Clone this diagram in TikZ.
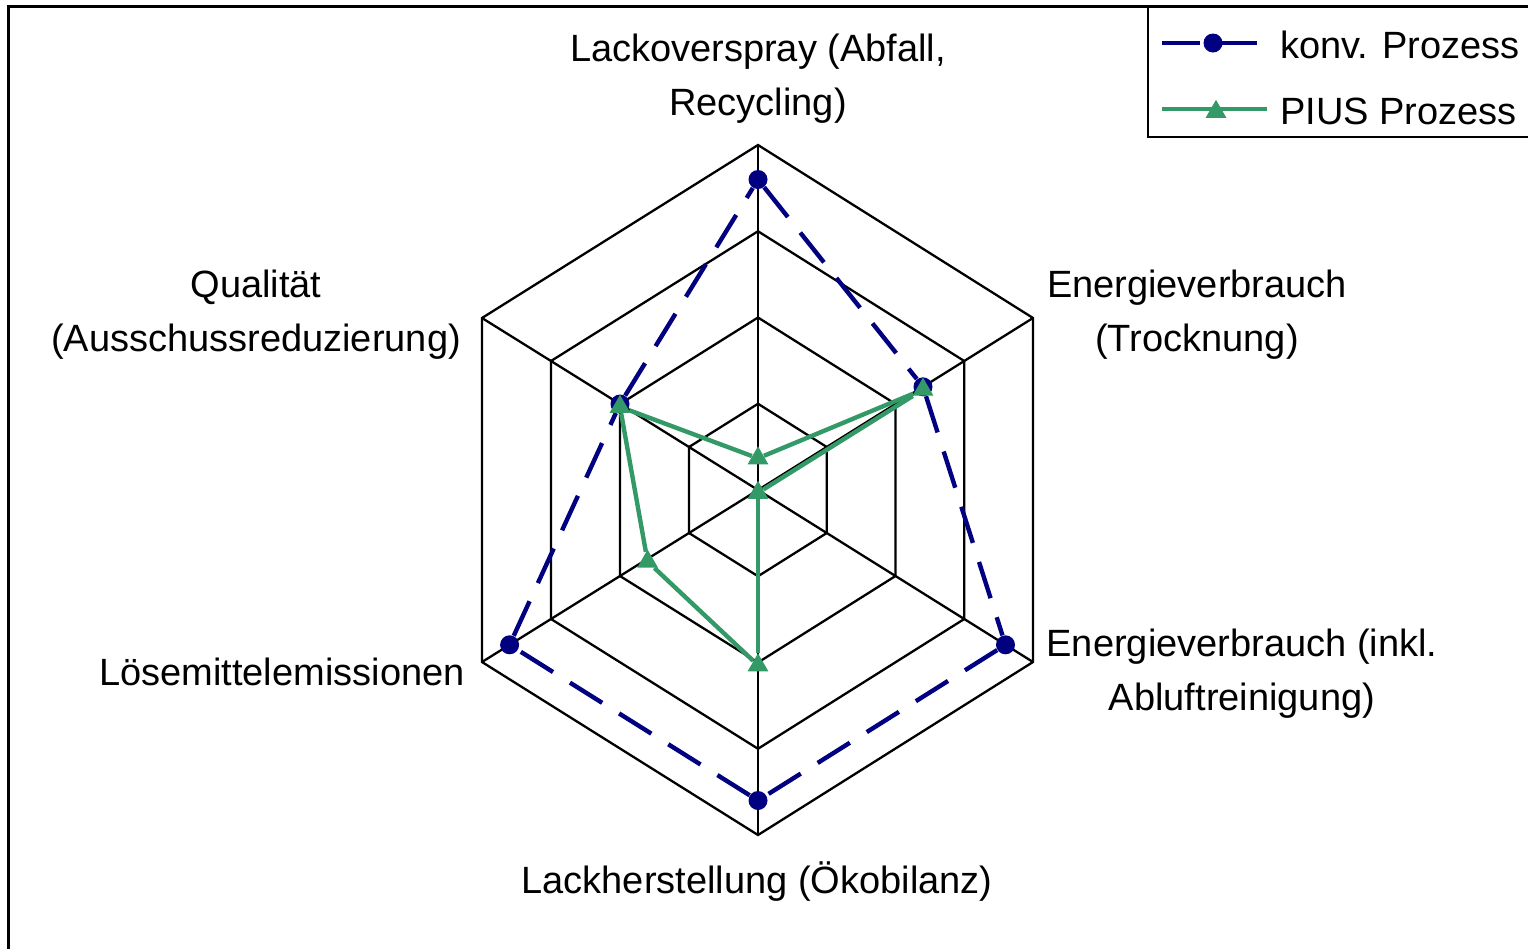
\documentclass[tikz,border=0pt]{standalone}
\usepackage{fontspec}
\setmainfont{Liberation Sans}
\usetikzlibrary{calc,shapes.geometric}
\definecolor{konvblue}{RGB}{0,0,128}
\definecolor{piusgreen}{RGB}{51,153,102}
\begin{document}
\begin{tikzpicture}[x=0.5pt,y=-0.5pt,
  gridline/.style={black,line width=1.15pt},
  framestyle/.style={black,line width=1.5pt},
  legendbox/.style={black,line width=1.2pt},
  konvline/.style={konvblue,line width=2.2pt,dash pattern=on 19pt off 10pt},
  piusline/.style={piusgreen,line width=2.2pt},
  konvmark/.style={circle,fill=konvblue,inner sep=0pt,minimum size=9.5pt},
  piusmark/.style={regular polygon,regular polygon sides=3,fill=piusgreen,
    inner sep=0pt,minimum size=12pt,yshift=-1.4pt},
  axislabel/.style={font=\fontsize{19pt}{27pt}\selectfont,inner sep=0pt,
    align=center,anchor=base},
  legendtext/.style={font=\fontsize{19pt}{27pt}\selectfont,inner sep=0pt,
    anchor=base west}
]
\useasboundingbox (0,0) rectangle (1528,949);

% outer frame of the chart area
\draw[framestyle] (8.5,949) -- (8.5,6.5) -- (1528,6.5);

% centre and the six axis ends
\coordinate (C)  at (758,490);
\coordinate (A1) at (758,145);
\coordinate (A2) at (1033,318);
\coordinate (A3) at (1033,662);
\coordinate (A4) at (758,835);
\coordinate (A5) at (482,662);
\coordinate (A6) at (482,318);

% grid rings and spokes
\foreach \r in {0.25,0.5,0.75,1}
  \draw[gridline,line join=miter]
    ($(C)!\r!(A1)$) -- ($(C)!\r!(A2)$) -- ($(C)!\r!(A3)$) --
    ($(C)!\r!(A4)$) -- ($(C)!\r!(A5)$) -- ($(C)!\r!(A6)$) -- cycle;
\foreach \i in {1,...,6}
  \draw[gridline] (C) -- (A\i);

% axis labels (base anchor = baseline of the last line)
\node[axislabel] (l1) at (758,115) {Lackoverspray (Abfall,\\Recycling)};
\node[axislabel] (l2) at (1197,351) {Energieverbrauch\\(Trocknung)};
\node[axislabel] (l3) at (1242,710) {Energieverbrauch (inkl.\\Abluftreinigung)};
\node[axislabel] (l4) at (757,893) {Lackherstellung (Ökobilanz)};
\node[axislabel,anchor=base east] (l5) at (465,685) {Lösemittelemissionen};
\node[axislabel] (l6) at (256,351) {Qualität\\(Ausschussreduzierung)};

% series: konventioneller Prozess
\node[konvmark] (k1) at ($(C)!0.9!(A1)$) {};
\node[konvmark] (k2) at ($(C)!0.6!(A2)$) {};
\node[konvmark] (k3) at ($(C)!0.9!(A3)$) {};
\node[konvmark] (k4) at ($(C)!0.9!(A4)$) {};
\node[konvmark] (k5) at ($(C)!0.9!(A5)$) {};
\node[konvmark] (k6) at ($(C)!0.5!(A6)$) {};
\foreach \a/\b in {k1/k2,k2/k3,k3/k4,k4/k5,k5/k6,k6/k1}
  \draw[konvline] (\a) -- (\b);

% series: PIUS Prozess
\node[piusmark] (p1) at ($(C)!0.1!(A1)$) {};
\node[piusmark] (p2) at ($(C)!0.6!(A2)$) {};
\node[piusmark] (p3) at (C) {};
\node[piusmark] (p4) at ($(C)!0.5!(A4)$) {};
\node[piusmark] (p5) at ($(C)!0.4!(A5)$) {};
\node[piusmark] (p6) at ($(C)!0.5!(A6)$) {};
\foreach \a/\b in {p1/p2,p2/p3,p3/p4,p4/p5,p5/p6,p6/p1}
  \draw[piusline] (\a) -- (\b);

% legend
\draw[legendbox] (1528,137) -- (1148,137) -- (1148,6.5);
\coordinate (lkw) at (1162,43);
\coordinate (lke) at (1257,43);
\draw[konvline] (lkw) -- (lke);
\node[konvmark] (lk) at (1213,43) {};
\node[legendtext] (tk) at (1280,58) {konv. Prozess};
\coordinate (lpw) at (1162,109);
\coordinate (lpe) at (1267,109);
\draw[piusline] (lpw) -- (lpe);
\node[piusmark] (lp) at (1216,109) {};
\node[legendtext] (tp) at (1280,124) {PIUS Prozess};
\end{tikzpicture}
\end{document}
